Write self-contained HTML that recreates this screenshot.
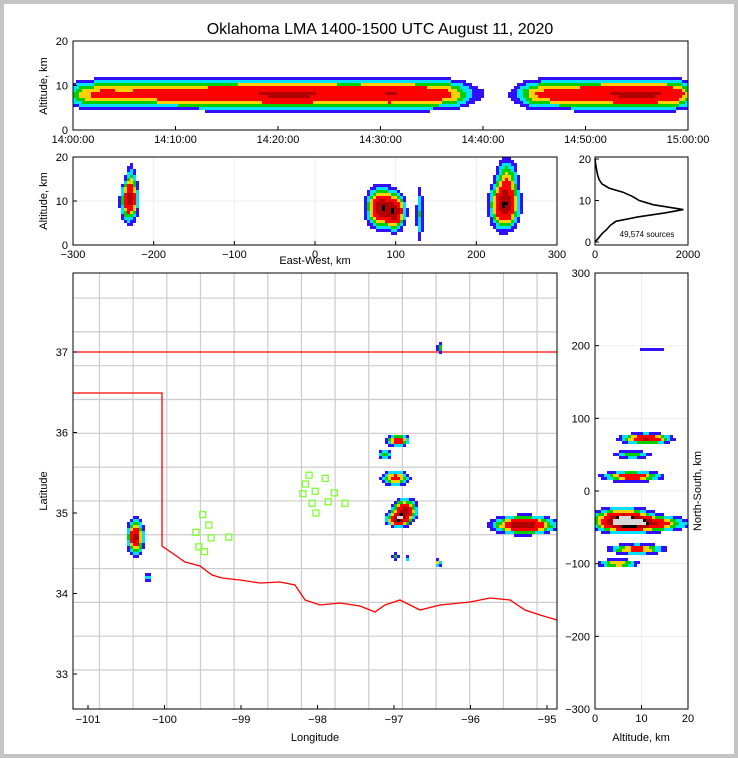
<!DOCTYPE html>
<html><head><meta charset="utf-8"><style>
html,body{margin:0;padding:0;background:#fff}
#wrap{width:730px;height:750px;border:4px solid #c4c4c4;position:relative;background:#fff}
svg{position:absolute;left:0;top:0;font-family:"Liberation Sans",sans-serif}
</style></head><body>
<div id="wrap">
<svg id="s" width="730" height="750" viewBox="4 4 730 750"></svg>
</div>
<script>
// ---- data ----
const timeBins = [0.32,0.38,0.35,0.38,0.4,0.42,0.45,0.48,0.5,0.52,0.55,0.52,0.5,0.48,0.5,0.52,0.5,0.45,0.35,0.08,0.04,0.04,0.35,0.4,0.45,0.48,0.52,0.55,0.52,0.48]; // 2-min bins 14:00-15:00
const timeTicks = ["14:00:00","14:10:00","14:20:00","14:30:00","14:40:00","14:50:00","15:00:00"];
const ewClusters = [[-230,10,6,2.6,0.75],[-228,14,4,3,0.25],[82,8.5,10,2.5,0.9],[100,7.5,7,2.3,0.75],[130,7,3,4,0.25],[235,9,10,3,0.9],[238,15,8,3,0.35]]; // x km, alt km, sx, sy, peak
const ewTicks = [-300,-200,-100,0,100,200,300];
const histAlt = [0,1,2,3,4,5,6,7,7.8,8,9,10,11,12,13,14,15,16,17,18,19,20];
const histCnt = [0,80,150,250,330,450,900,1500,1900,1800,1250,950,800,600,300,150,90,60,40,25,10,0];
const mapClusters = [[-100.38,34.7,0.06,0.12,0.8],[-100.22,34.2,0.03,0.05,0.22],[-96.95,35.9,0.08,0.04,0.65],[-97.12,35.73,0.05,0.035,0.35],[-96.98,35.43,0.1,0.05,0.6],[-96.86,35.03,0.09,0.08,0.8],[-96.95,34.92,0.08,0.05,0.85],[-95.3,34.85,0.22,0.06,0.95],[-96.4,37.05,0.025,0.04,0.3],[-96.98,34.46,0.025,0.025,0.3],[-96.83,34.43,0.02,0.03,0.25],[-96.42,34.38,0.025,0.025,0.4]];
const nsClusters = [[11,72,3,4,0.75],[8,50,2.5,3.5,0.3],[8,20,3.5,4,0.65],[6,-40,3.5,9,0.95],[11,-45,5,6,0.7],[9,-80,3.5,4,0.55],[5,-100,2.5,3.5,0.45],[12,195,3,1.5,0.12]];
const lonTicks=[-101,-100,-99,-98,-97,-96,-95], latTicks=[33,34,35,36,37];
const netLon=[-99.5,-99.42,-99.59,-99.39,-99.16,-99.55,-99.48,-98.11,-97.9,-98.16,-98.03,-98.19,-97.78,-97.86,-98.07,-97.64,-98.02];
const netLat=[34.98,34.85,34.76,34.69,34.70,34.58,34.52,35.47,35.43,35.36,35.27,35.24,35.25,35.14,35.12,35.12,35.0];
// ---- helpers ----
const S=document.getElementById('s'),NS='http://www.w3.org/2000/svg';
function el(t,a,p){const e=document.createElementNS(NS,t);for(const k in a)e.setAttribute(k,a[k]);(p||S).appendChild(e);return e;}
function txt(x,y,s,o){const e=el('text',Object.assign({x:x,y:y,'font-size':11,'text-anchor':'middle',fill:'#000'},o||{}));e.textContent=s;return e;}
function lin(d0,d1,r0,r1){return v=>r0+(v-d0)*(r1-r0)/(d1-d0);}
function col(d){if(d>1.0)return'#ffffff';if(d>0.92)return'#000000';if(d>0.7)return'#b00000';if(d>0.45)return'#ff0000';if(d>0.34)return'#ffd000';if(d>0.24)return'#00d000';if(d>0.15)return'#00e0ff';if(d>0.08)return'#3010ff';return null;}
function density(cl,x,y){let s=0;for(const c of cl){const dx=(x-c[0])/c[2],dy=(y-c[1])/c[3];s+=c[4]*Math.exp(-0.5*(dx*dx+dy*dy));}return s;}
function drawCells(cl,xs,ys,x0,x1,y0,y1,cell,name){
 const g=el('g',{});
 const fx=lin(xs.r0,xs.r1,xs.d0,xs.d1),fy=lin(ys.r0,ys.r1,ys.d0,ys.d1);
 for(let px=x0;px<x1;px+=cell)for(let py=y0;py<y1;py+=cell){const d=density(cl,fx(px+cell/2),fy(py+cell/2));const c=col(d);if(c){el('rect',{x:px,y:py,width:Math.min(cell,x1-px),height:Math.min(cell,y1-py),fill:c==='#ffffff'?'#d8d8d8':c},g);}}
 return g;}
function frame(x0,y0,x1,y1,n){const r=el('rect',{x:x0,y:y0,width:x1-x0,height:y1-y0,fill:'none',stroke:'#000','stroke-width':1});}
function tick(x,y,dx,dy){el('line',{x1:x,y1:y,x2:x+dx,y2:y+dy,stroke:'#000'});}
// ---- title ----
const t=txt(380,34,'Oklahoma LMA 1400-1500 UTC August 11, 2020',{'font-size':16});
// ---- top panel ----
{const X0=73,X1=688,Y0=41,Y1=130;const ty=lin(0,20,Y1,Y0);
 const cl=timeBins.map((v,i)=>[i*2+1,8,1.1,1.9,v]);
 drawCells(cl,{r0:X0,r1:X1,d0:0,d1:60},{r0:Y1,r1:Y0,d0:0,d1:20},X0,X1,Y0,Y1,3,'time-height-density');
 frame(X0,Y0,X1,Y1,'time-height-axes');
 [0,10,20].forEach(v=>{tick(X0,ty(v),4,0);txt(X0-5,ty(v)+4,v,{'text-anchor':'end'});});
 timeTicks.forEach((s,i)=>{const x=X0+i*(X1-X0)/6;tick(x,Y1,0,-4);txt(x,Y1+13,s);});
 const a=txt(0,0,'Altitude, km',{transform:'translate(47,86) rotate(-90)'});}
// ---- EW panel ----
{const X0=73,X1=557,Y0=157,Y1=245;const fx=lin(-300,300,X0,X1),fy=lin(0,20,Y1,Y0);
 ewTicks.forEach(v=>el('line',{x1:fx(v),y1:Y0,x2:fx(v),y2:Y1,stroke:'#eee'}));[10].forEach(v=>el('line',{x1:X0,y1:fy(v),x2:X1,y2:fy(v),stroke:'#eee'}));
 drawCells(ewClusters,{r0:X0,r1:X1,d0:-300,d1:300},{r0:Y1,r1:Y0,d0:0,d1:20},X0,X1,Y0,Y1,3,'ew-density');
 frame(X0,Y0,X1,Y1,'ew-axes');
 [0,10,20].forEach(v=>{tick(X0,fy(v),4,0);txt(X0-5,fy(v)+4,v,{'text-anchor':'end'});});
 ewTicks.forEach(v=>{tick(fx(v),Y1,0,-4);txt(fx(v),Y1+13,v>0?v:(v<0?'\u2212'+(-v):'0'));});
 const a=txt(315,264,'East-West, km');
 const b=txt(0,0,'Altitude, km',{transform:'translate(47,201) rotate(-90)'});}
// ---- histogram ----
{const X0=595,X1=688,Y0=157,Y1=245;const fx=lin(0,2000,X0,X1),fy=lin(0,20,242,159);
 let d='';histAlt.forEach((a,i)=>{d+=(i?'L':'M')+fx(histCnt[i]).toFixed(1)+','+fy(a).toFixed(1);});
 const p=el('path',{d:d,fill:'none',stroke:'#000','stroke-width':1.6});
 frame(X0,Y0,X1,Y1,'histogram-axes');
 [0,10,20].forEach(v=>{tick(X0,fy(v),4,0);txt(X0-4,fy(v)+4,v,{'text-anchor':'end'});});
 [0,2000].forEach(v=>{tick(fx(v),Y1,0,-4);txt(fx(v),Y1+13,v);});
 const s=txt(647,237,'49,574 sources',{'font-size':8});}
// ---- map ----
{const X0=73,X1=557,Y0=273,Y1=709;const fx=lin(-101,-95,88,547),fy=lin(37,33,352,674);
 const cg=el('g',{stroke:'#cccccc','stroke-width':1.2,fill:'none'});
 for(let lo=-100.85;lo<-94.8;lo+=0.44)el('line',{x1:fx(lo),y1:Y0,x2:fx(lo),y2:Y1},cg);
 for(let la=33.05;la<38;la+=0.42)el('line',{x1:X0,y1:fy(la),x2:X1,y2:fy(la)},cg);
 const sb=el('path',{d:'M73,352L557,352M73,393L162,393L162,546L175,555L185,562L200,566L212,575L222,578L240,580L260,583L280,582L295,585L305,600L320,605L340,603L360,606L375,612L385,605L400,600L420,610L440,605L470,602L490,598L510,600L525,610L540,615L557,620',fill:'none',stroke:'#ff0000','stroke-width':1.3});
 const ng=el('g',{});
 netLon.forEach((lo,i)=>el('rect',{x:fx(lo)-3,y:fy(netLat[i])-3,width:6,height:6,fill:'none',stroke:'#7fff30','stroke-width':1.3},ng));
 drawCells(mapClusters,{r0:88,r1:547,d0:-101,d1:-95},{r0:352,r1:674,d0:37,d1:33},X0,X1,Y0,Y1,3,'map-source-density');
 frame(X0,Y0,X1,Y1,'map-axes');
 latTicks.forEach(v=>{tick(X0,fy(v),4,0);txt(X0-5,fy(v)+4,v,{'text-anchor':'end'});});
 lonTicks.forEach(v=>{tick(fx(v),Y1,0,-4);txt(fx(v),Y1+14,'\u2212'+(-v));});
 const a=txt(315,741,'Longitude');
 const b=txt(0,0,'Latitude',{transform:'translate(47,491) rotate(-90)'});}
// ---- NS panel ----
{const X0=595,X1=688,Y0=273,Y1=709;const fx=lin(0,20,X0,X1),fy=lin(-300,300,Y1,Y0);
 [-200,-100,0,100,200].forEach(v=>el('line',{x1:X0,y1:fy(v),x2:X1,y2:fy(v),stroke:'#eee'}));el('line',{x1:fx(10),y1:Y0,x2:fx(10),y2:Y1,stroke:'#eee'});
 drawCells(nsClusters,{r0:X0,r1:X1,d0:0,d1:20},{r0:Y1,r1:Y0,d0:-300,d1:300},X0,X1,Y0,Y1,3,'ns-density');
 frame(X0,Y0,X1,Y1,'ns-axes');
 [-300,-200,-100,0,100,200,300].forEach(v=>{tick(X0,fy(v),4,0);txt(X0-5,fy(v)+4,v<0?'\u2212'+(-v):v,{'text-anchor':'end'});});
 [0,10,20].forEach(v=>{tick(fx(v),Y1,0,-4);txt(fx(v),Y1+13,v);});
 const a=txt(641,741,'Altitude, km');
 const b=txt(0,0,'North-South, km',{transform:'translate(701,491) rotate(-90)'});}
</script>
</body></html>
